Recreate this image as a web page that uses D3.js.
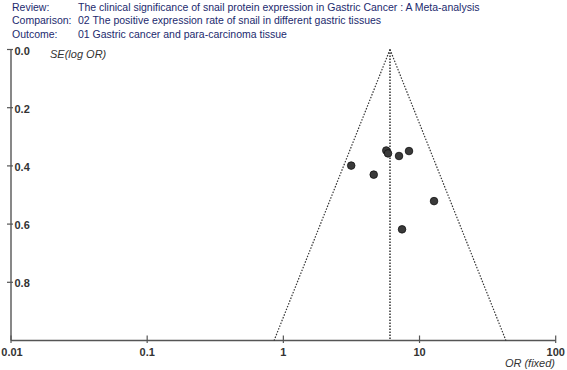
<!DOCTYPE html>
<html><head><meta charset="utf-8">
<script src="https://cdn.jsdelivr.net/npm/d3@7/dist/d3.min.js"></script>
<style>body{margin:0;background:#fff}svg{display:block}</style>
</head><body>
<svg id="c" width="567" height="370"></svg>
<script>
const headerLabels = ["Review:", "Comparison:", "Outcome:"];
const headerValues = [
  "The clinical significance of snail protein expression in Gastric Cancer : A Meta-analysis",
  "02 The positive expression rate of snail in different gastric tissues",
  "01 Gastric cancer and para-carcinoma tissue"
];
const studyOR = [3.15, 4.61, 5.70, 5.87, 7.07, 8.37, 12.78, 7.44];
const studySE = [0.399, 0.430, 0.347, 0.357, 0.366, 0.349, 0.521, 0.618];
const pooledOR = 6.07;
const xTicks = [0.01, 0.1, 1, 10, 100];
const xTickLabels = ["0.01", "0.1", "1", "10", "100"];
const yTicks = [0, 0.2, 0.4, 0.6, 0.8];
const yTickLabels = ["0.0", "0.2", "0.4", "0.6", "0.8"];
const seMax = 1.0;

const svg = d3.select("#c");
const font = "'Liberation Sans', Arial, sans-serif";
const x = d3.scaleLog().domain([0.01, 100]).range([11, 555.7]);
const y = d3.scaleLinear().domain([0, seMax]).range([49.5, 340.5]);

// header
const hg = svg.append("g").attr("font-family", font).attr("font-size", 10.5).attr("fill", "#1c2a6e");
headerLabels.forEach((t, i) => {
  hg.append("text").attr("x", 12).attr("y", 10.5 + i * 13.5).text(t);
  hg.append("text").attr("x", 78).attr("y", 10.5 + i * 13.5).text(headerValues[i]);
});

const axisCol = "#555";
svg.append("line").attr("x1", x(0.01)).attr("x2", x(0.01)).attr("y1", y(0)).attr("y2", y(seMax))
  .attr("stroke", axisCol).attr("stroke-width", 1.4);
svg.append("line").attr("x1", x(0.01)).attr("x2", x(100)).attr("y1", y(seMax)).attr("y2", y(seMax))
  .attr("stroke", axisCol).attr("stroke-width", 1.4);

yTicks.forEach((v, i) => {
  svg.append("line").attr("x1", 7).attr("x2", 13).attr("y1", y(v)).attr("y2", y(v))
    .attr("stroke", axisCol).attr("stroke-width", 1.2);
  svg.append("text").attr("x", 14.5).attr("y", y(v) + 5).attr("font-family", font)
    .attr("font-size", 11).attr("font-weight", "bold").attr("fill", "#333").text(yTickLabels[i]);
});
xTicks.forEach((v, i) => {
  svg.append("line").attr("x1", x(v)).attr("x2", x(v)).attr("y1", y(seMax) - 5).attr("y2", y(seMax) + 2.5)
    .attr("stroke", axisCol).attr("stroke-width", 1.2);
  svg.append("text").attr("x", x(v) + (i === 0 ? 1 : 0)).attr("y", y(seMax) + 15).attr("text-anchor", "middle")
    .attr("font-family", font).attr("font-size", 11).attr("font-weight", "bold").attr("fill", "#333")
    .text(xTickLabels[i]);
});

svg.append("text").attr("x", 50).attr("y", 58).attr("font-family", font).attr("font-size", 11)
  .attr("font-style", "italic").attr("fill", "#333").text("SE(log OR)");
svg.append("text").attr("x", 555).attr("y", 367).attr("text-anchor", "end").attr("font-family", font)
  .attr("font-size", 11).attr("font-style", "italic").attr("fill", "#333").text("OR (fixed)");

const lnP = Math.log(pooledOR);
const dash = "1.5,1.5";
svg.append("line").attr("x1", x(pooledOR)).attr("x2", x(pooledOR)).attr("y1", y(0)).attr("y2", y(seMax))
  .attr("stroke", "#222").attr("stroke-width", 1.4).attr("stroke-dasharray", dash);
[-1, 1].forEach(s => {
  svg.append("line").attr("x1", x(pooledOR)).attr("y1", y(0))
    .attr("x2", x(Math.exp(lnP + s * 1.96 * seMax))).attr("y2", y(seMax))
    .attr("stroke", "#333").attr("stroke-width", 1.2).attr("stroke-dasharray", dash);
});

svg.append("g").selectAll("circle").data(studyOR.map((o, i) => [o, studySE[i]])).join("circle")
  .attr("cx", d => x(d[0])).attr("cy", d => y(d[1])).attr("r", 3.8)
  .attr("fill", "#3a3a3a").attr("stroke", "#111").attr("stroke-width", 0.8);
</script>
</body></html>
